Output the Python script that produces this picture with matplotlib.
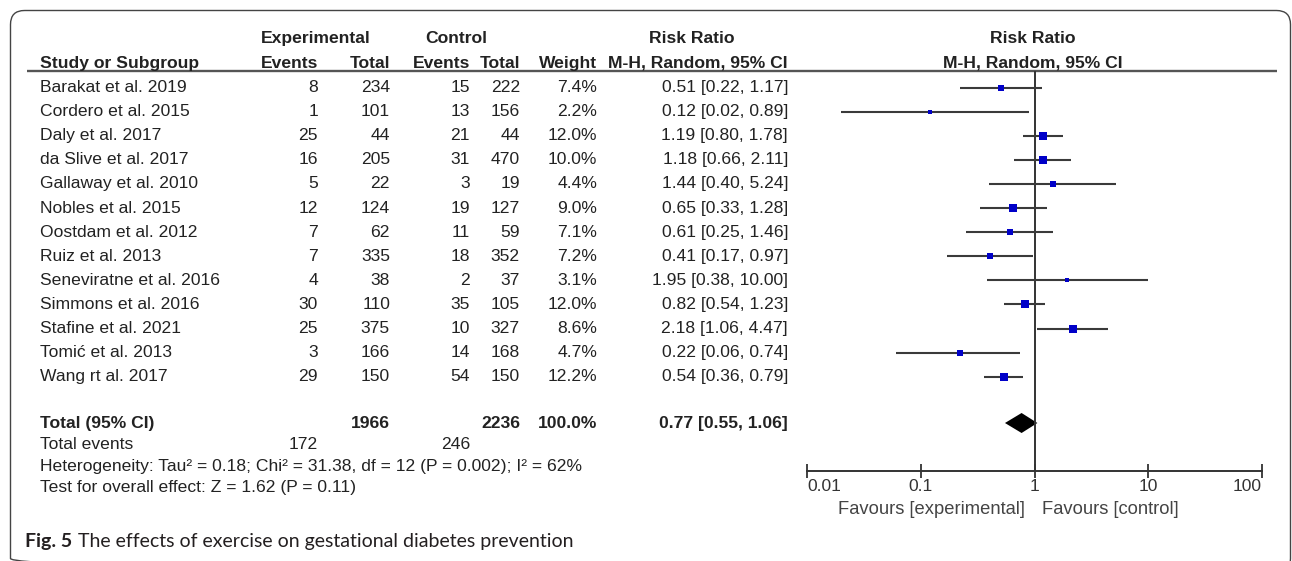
import matplotlib.pyplot as plt
import numpy as np
from matplotlib import font_manager
from matplotlib.patches import FancyBboxPatch

installed = {f.name for f in font_manager.fontManager.ttflist}
if 'Liberation Sans Narrow' in installed:
    body_font, fs = 'Liberation Sans Narrow', 15.0
else:
    body_font, fs = 'Liberation Sans', 12.6
plt.rcParams['font.family'] = [body_font, 'DejaVu Sans']
cap_font = ['Lato', 'Open Sans', 'DejaVu Sans']

# data
studies = ['Barakat et al. 2019', 'Cordero et al. 2015', 'Daly et al. 2017', 'da Slive et al. 2017',
           'Gallaway et al. 2010', 'Nobles et al. 2015', 'Oostdam et al. 2012', 'Ruiz et al. 2013',
           'Seneviratne et al. 2016', 'Simmons et al. 2016', 'Stafine et al. 2021', 'Tomić et al. 2013',
           'Wang rt al. 2017']
exp_events = [8, 1, 25, 16, 5, 12, 7, 7, 4, 30, 25, 3, 29]
exp_total = [234, 101, 44, 205, 22, 124, 62, 335, 38, 110, 375, 166, 150]
ctl_events = [15, 13, 21, 31, 3, 19, 11, 18, 2, 35, 10, 14, 54]
ctl_total = [222, 156, 44, 470, 19, 127, 59, 352, 37, 105, 327, 168, 150]
weight = [7.4, 2.2, 12.0, 10.0, 4.4, 9.0, 7.1, 7.2, 3.1, 12.0, 8.6, 4.7, 12.2]
rr = [0.51, 0.12, 1.19, 1.18, 1.44, 0.65, 0.61, 0.41, 1.95, 0.82, 2.18, 0.22, 0.54]
lo = [0.22, 0.02, 0.80, 0.66, 0.40, 0.33, 0.25, 0.17, 0.38, 0.54, 1.06, 0.06, 0.36]
hi = [1.17, 0.89, 1.78, 2.11, 5.24, 1.28, 1.46, 0.97, 10.00, 1.23, 4.47, 0.74, 0.79]
rr_fmt = ['%.2f [%.2f, %.2f]' % (a, b, c) for a, b, c in zip(rr, lo, hi)]

total_exp, total_ctl = 1966, 2236
total_ev_exp, total_ev_ctl = 172, 246
total_rr, total_lo, total_hi = 0.77, 0.55, 1.06
ticks = [0.01, 0.1, 1, 10, 100]
tick_labels = ['0.01', '0.1', '1', '10', '100']

W, H = 1292, 561
fig = plt.figure(figsize=(W / 100, H / 100), dpi=100)
ax = fig.add_axes([0, 0, 1, 1])
ax.set_xlim(0, W)
ax.set_ylim(H, 0)
ax.axis('off')

txt = '#222222'

# border with rounded corners (bottom edge below the picture)
ax.add_patch(FancyBboxPatch((10.5, 10.5), 1280, 562, boxstyle='round,pad=0,rounding_size=14',
                            fc='none', ec='#444444', lw=1.0))

# headers
hy1, hy2 = 38, 63
bold = dict(fontsize=fs, fontweight='bold', color=txt, va='center')
ax.text(316, hy1, 'Experimental', ha='center', **bold)
ax.text(456, hy1, 'Control', ha='center', **bold)
ax.text(692, hy1, 'Risk Ratio', ha='center', **bold)
ax.text(1033, hy1, 'Risk Ratio', ha='center', **bold)
ax.text(40, hy2, 'Study or Subgroup', ha='left', **bold)
for x, s in [(318, 'Events'), (390, 'Total'), (470, 'Events'), (520, 'Total'), (597, 'Weight'),
             (788, 'M-H, Random, 95% CI')]:
    ax.text(x, hy2, s, ha='right', **bold)
ax.text(1033, hy2, 'M-H, Random, 95% CI', ha='center', **bold)
ax.plot([27, 1277], [71, 71], color='#555555', lw=1.7, solid_capstyle='butt')

# study rows
y0, dy = 87.5, 24.1
rows = y0 + dy * np.arange(len(studies))
reg = dict(fontsize=fs, color=txt, va='center')
for i, y in enumerate(rows):
    ax.text(40, y, studies[i], ha='left', **reg)
    ax.text(318, y, str(exp_events[i]), ha='right', **reg)
    ax.text(390, y, str(exp_total[i]), ha='right', **reg)
    ax.text(470, y, str(ctl_events[i]), ha='right', **reg)
    ax.text(520, y, str(ctl_total[i]), ha='right', **reg)
    ax.text(597, y, '%.1f%%' % weight[i], ha='right', **reg)
    ax.text(788, y, rr_fmt[i], ha='right', **reg)

# totals
ty = 423
ax.text(40, ty, 'Total (95% CI)', ha='left', **bold)
ax.text(390, ty, str(total_exp), ha='right', **bold)
ax.text(520, ty, str(total_ctl), ha='right', **bold)
ax.text(597, ty, '100.0%', ha='right', **bold)
ax.text(788, ty, '%.2f [%.2f, %.2f]' % (total_rr, total_lo, total_hi), ha='right', **bold)
ax.text(40, 444, 'Total events', ha='left', **reg)
ax.text(318, 444, str(total_ev_exp), ha='right', **reg)
ax.text(470, 444, str(total_ev_ctl), ha='right', **reg)
ax.text(40, 466, 'Heterogeneity: Tau² = 0.18; Chi² = 31.38, df = 12 (P = 0.002); I² = 62%', ha='left', **reg)
ax.text(40, 487, 'Test for overall effect: Z = 1.62 (P = 0.11)', ha='left', **reg)

# caption
ax.text(25, 542, 'Fig. 5', fontsize=14, fontweight='bold', color='#231f20', va='center', family=cap_font)
ax.text(78, 542, 'The effects of exercise on gestational diabetes prevention', fontsize=14,
        color='#231f20', va='center', family=cap_font)

# forest plot
x_l, x_r, y_t, y_b = 807, 1262, 71, 471
fx = fig.add_axes([x_l / W, (H - y_b) / H, (x_r - x_l) / W, (y_b - y_t) / H])
fx.set_xscale('log')
fx.set_xlim(0.01, 100)
fx.set_ylim(y_b, y_t)
fx.patch.set_alpha(0)
for s in ['top', 'left', 'right']:
    fx.spines[s].set_visible(False)
fx.spines['bottom'].set_color('#333333')
fx.spines['bottom'].set_linewidth(1.4)
fx.set_yticks([])
fx.set_xticks(ticks)
fx.set_xticklabels(tick_labels)
fx.minorticks_off()
fx.tick_params(axis='x', direction='inout', length=10, width=1.3, color='#333333',
               labelsize=fs, labelcolor='#333333', pad=1)
lbls = fx.get_xticklabels()
lbls[0].set_ha('left')
lbls[-1].set_ha('right')
fx.axvline(1, color='#333333', lw=1.4)

for i, y in enumerate(rows):
    fx.plot([lo[i], hi[i]], [y, y], color='#3a3a3a', lw=1.5, solid_capstyle='butt')
    side = 2.4 * np.sqrt(weight[i])
    fx.plot(rr[i], y, marker='s', ms=side * 0.72, color='#0000c8', mec='#0000c8', mew=0)

dh = 10
fx.fill([total_lo, total_rr, total_hi, total_rr], [ty, ty - dh, ty, ty + dh], color='black', lw=0)

ax.text(1025, 509, 'Favours [experimental]', ha='right', va='center', fontsize=fs * 1.05, color='#444444')
ax.text(1042, 509, 'Favours [control]', ha='left', va='center', fontsize=fs * 1.05, color='#444444')

fig.savefig('out.png', dpi=100)
